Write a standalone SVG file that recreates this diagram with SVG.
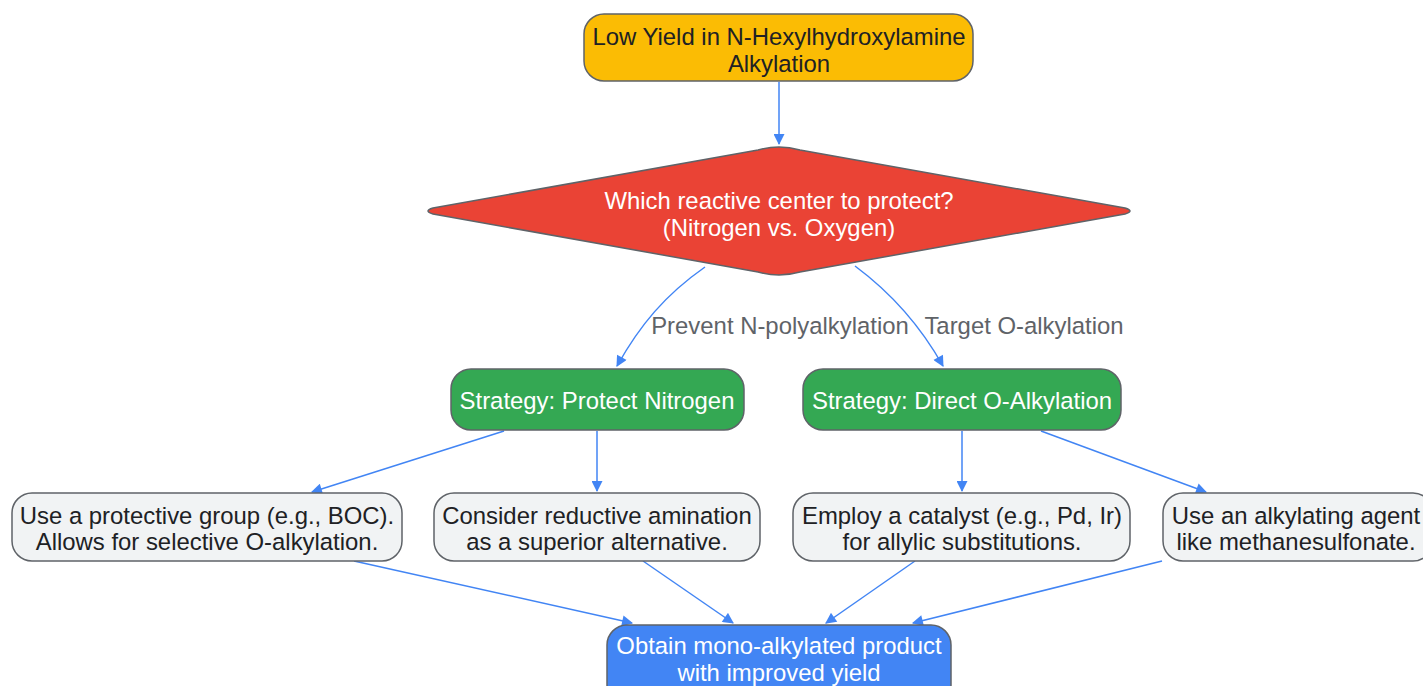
<svg xmlns="http://www.w3.org/2000/svg" width="1423" height="686" viewBox="0 0 1423 686">
<defs>
<marker id="ah" viewBox="0 0 10 10" refX="9" refY="5" markerWidth="12" markerHeight="11" markerUnits="userSpaceOnUse" orient="auto">
<path d="M0,0 L10,5 L0,10 z" fill="#4285F4"/>
</marker>
<style>
text{font-family:"Liberation Sans",Arial,sans-serif;font-size:23.9px;text-anchor:middle}
.n{stroke:#5f6368;stroke-width:1.5}
.y{fill:#FBBC04}
.r{fill:#EA4335}
.g{fill:#34A853}
.w{fill:#F1F3F4}
.b{fill:#4285F4}
.dk{fill:#202124}
.lt{fill:#ffffff}
.lbl{fill:#5f6368}
.e{fill:none;stroke:#4285F4;stroke-width:1.5;marker-end:url(#ah)}
</style>
</defs>
<rect width="1423" height="686" fill="#ffffff"/>
<g id="connectors">
<path class="e" d="M779,82 L779,144"/>
<path class="e" d="M705,267 C665,295 640,325 617,366"/>
<path class="e" d="M855,266 C890,292 920,325 943,366"/>
<path class="e" d="M504,431 L312,492"/>
<path class="e" d="M597,431 L597,491"/>
<path class="e" d="M962,431 L962,491"/>
<path class="e" d="M1041,431 L1206,492"/>
<path class="e" d="M354,561 L632,623"/>
<path class="e" d="M643,561 L733,623"/>
<path class="e" d="M915,561 L826,623"/>
<path class="e" d="M1162,561 L913,623"/>
</g>
<g id="lbl1"><text class="lbl" x="780" y="334">Prevent N-polyalkylation</text></g>
<g id="lbl2"><text class="lbl" x="1024" y="334">Target O-alkylation</text></g>
<g id="start">
<rect class="n y" x="584" y="14" width="389" height="67" rx="20"/>
<text class="dk" x="779" y="45">Low Yield in N-Hexylhydroxylamine</text>
<text class="dk" x="779" y="72">Alkylation</text>
</g>
<g id="decision">
<path class="n r" d="M758,150 Q779,144 800,150 L1125,208 Q1135,211 1125,214 L800,272 Q779,278 758,272 L433,214 Q423,211 433,208 Z"/>
<text class="lt" x="779" y="209">Which reactive center to protect?</text>
<text class="lt" x="779" y="236">(Nitrogen vs. Oxygen)</text>
</g>
<g id="protectN">
<rect class="n g" x="451" y="369" width="293" height="61" rx="20"/>
<text class="lt" x="597" y="409">Strategy: Protect Nitrogen</text>
</g>
<g id="directO">
<rect class="n g" x="803" y="369" width="318" height="61" rx="20"/>
<text class="lt" x="962" y="409">Strategy: Direct O-Alkylation</text>
</g>
<g id="boc">
<rect class="n w" x="12" y="493" width="390" height="68" rx="20"/>
<text class="dk" x="207" y="524">Use a protective group (e.g., BOC).</text>
<text class="dk" x="207" y="550">Allows for selective O-alkylation.</text>
</g>
<g id="reductive">
<rect class="n w" x="434" y="493" width="326" height="68" rx="20"/>
<text class="dk" x="597" y="524">Consider reductive amination</text>
<text class="dk" x="597" y="550">as a superior alternative.</text>
</g>
<g id="catalyst">
<rect class="n w" x="793" y="493" width="337" height="68" rx="20"/>
<text class="dk" x="962" y="524">Employ a catalyst (e.g., Pd, Ir)</text>
<text class="dk" x="962" y="550">for allylic substitutions.</text>
</g>
<g id="agent">
<rect class="n w" x="1163" y="493" width="270" height="68" rx="20"/>
<text class="dk" x="1296" y="524">Use an alkylating agent</text>
<text class="dk" x="1296" y="550">like methanesulfonate.</text>
</g>
<g id="result">
<rect class="n b" x="607" y="625" width="344" height="80" rx="20"/>
<text class="lt" x="779" y="654">Obtain mono-alkylated product</text>
<text class="lt" x="779" y="681">with improved yield</text>
</g>
</svg>
